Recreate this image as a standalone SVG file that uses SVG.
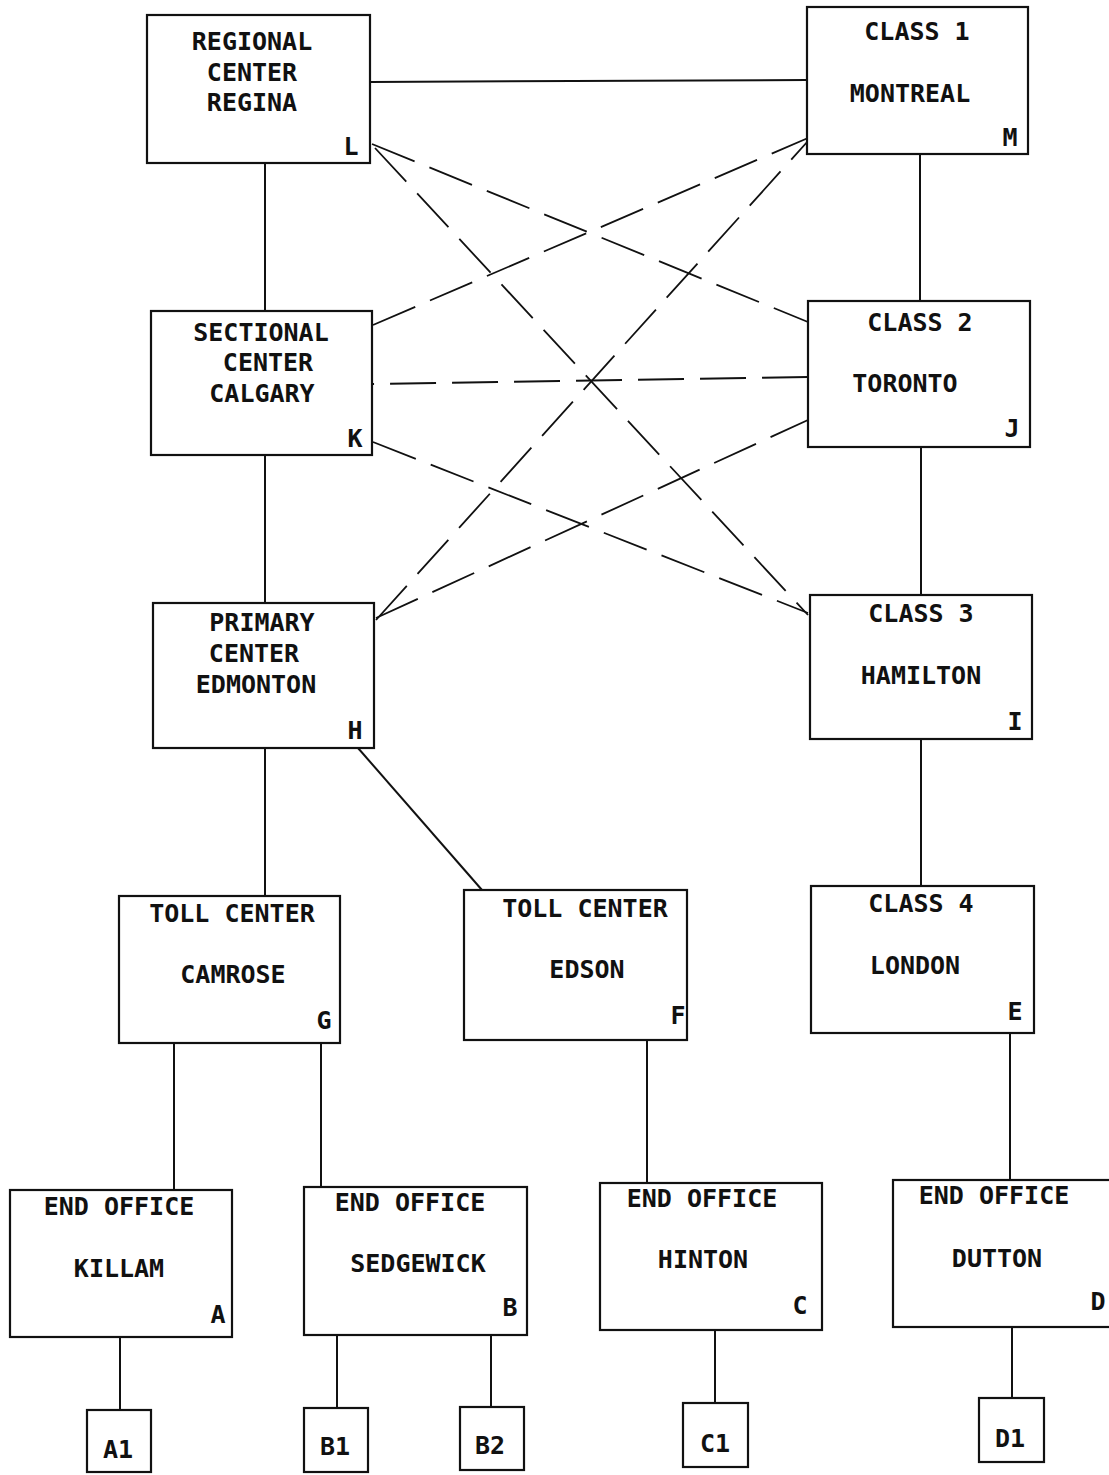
<svg xmlns="http://www.w3.org/2000/svg" width="1109" height="1475" viewBox="0 0 1109 1475">
<style>
.box{fill:#fff;stroke:#111;stroke-width:2.2}
.t{font-family:"DejaVu Sans Mono","Liberation Mono",monospace;font-size:25px;font-weight:bold;fill:#111;text-anchor:middle}
.lb{font-family:"DejaVu Sans Mono","Liberation Mono",monospace;font-size:25px;font-weight:bold;fill:#111;text-anchor:middle}
.s{stroke:#111;stroke-width:2;fill:none}
.d{stroke:#111;stroke-width:1.8;fill:none;stroke-dasharray:46 16}
</style>
<rect width="1109" height="1475" fill="#fff"/>
<g id="connectors">
<line class="s" x1="370" y1="82" x2="807" y2="80"/>
<line class="s" x1="265" y1="163" x2="265" y2="311"/>
<line class="s" x1="920" y1="154" x2="920" y2="301"/>
<line class="s" x1="265" y1="455" x2="265" y2="603"/>
<line class="s" x1="921" y1="447" x2="921" y2="595"/>
<line class="s" x1="265" y1="748" x2="265" y2="896"/>
<line class="s" x1="358" y1="748" x2="482" y2="890"/>
<line class="s" x1="921" y1="739" x2="921" y2="886"/>
<line class="s" x1="174" y1="1043" x2="174" y2="1190"/>
<line class="s" x1="321" y1="1043" x2="321" y2="1187"/>
<line class="s" x1="647" y1="1040" x2="647" y2="1183"/>
<line class="s" x1="1010" y1="1033" x2="1010" y2="1180"/>
<line class="s" x1="120" y1="1337" x2="120" y2="1410"/>
<line class="s" x1="337" y1="1335" x2="337" y2="1408"/>
<line class="s" x1="491" y1="1335" x2="491" y2="1407"/>
<line class="s" x1="715" y1="1330" x2="715" y2="1403"/>
<line class="s" x1="1012" y1="1327" x2="1012" y2="1398"/>
<line class="d" x1="372" y1="144" x2="808" y2="322"/>
<line class="d" x1="375" y1="148" x2="808" y2="615"/>
<line class="d" x1="373" y1="325" x2="808" y2="138"/>
<line class="d" x1="808" y1="377" x2="373" y2="384"/>
<line class="d" x1="373" y1="442" x2="808" y2="613"/>
<line class="d" x1="376" y1="620" x2="808" y2="141"/>
<line class="d" x1="376" y1="618" x2="808" y2="420"/>
</g>
<g id="L"><rect class="box" x="147" y="15" width="223" height="148"/><text class="t" x="252" y="50">REGIONAL</text><text class="t" x="252" y="81">CENTER</text><text class="t" x="252" y="111">REGINA</text><text class="lb" x="351" y="155">L</text></g>
<g id="M"><rect class="box" x="807" y="7" width="221" height="147"/><text class="t" x="917" y="40">CLASS 1</text><text class="t" x="910" y="102">MONTREAL</text><text class="lb" x="1010" y="146">M</text></g>
<g id="K"><rect class="box" x="151" y="311" width="221" height="144"/><text class="t" x="261" y="341">SECTIONAL</text><text class="t" x="268" y="371">CENTER</text><text class="t" x="262" y="402">CALGARY</text><text class="lb" x="355" y="447">K</text></g>
<g id="J"><rect class="box" x="808" y="301" width="222" height="146"/><text class="t" x="920" y="331">CLASS 2</text><text class="t" x="905" y="392">TORONTO</text><text class="lb" x="1012" y="437">J</text></g>
<g id="H"><rect class="box" x="153" y="603" width="221" height="145"/><text class="t" x="262" y="631">PRIMARY</text><text class="t" x="254" y="662">CENTER</text><text class="t" x="256" y="693">EDMONTON</text><text class="lb" x="355" y="739">H</text></g>
<g id="I"><rect class="box" x="810" y="595" width="222" height="144"/><text class="t" x="921" y="622">CLASS 3</text><text class="t" x="921" y="684">HAMILTON</text><text class="lb" x="1015" y="730">I</text></g>
<g id="G"><rect class="box" x="119" y="896" width="221" height="147"/><text class="t" x="232" y="922">TOLL CENTER</text><text class="t" x="233" y="983">CAMROSE</text><text class="lb" x="324" y="1029">G</text></g>
<g id="F"><rect class="box" x="464" y="890" width="223" height="150"/><text class="t" x="585" y="917">TOLL CENTER</text><text class="t" x="587" y="978">EDSON</text><text class="lb" x="678" y="1024">F</text></g>
<g id="E"><rect class="box" x="811" y="886" width="223" height="147"/><text class="t" x="921" y="912">CLASS 4</text><text class="t" x="915" y="974">LONDON</text><text class="lb" x="1015" y="1020">E</text></g>
<g id="A"><rect class="box" x="10" y="1190" width="222" height="147"/><text class="t" x="119" y="1215">END OFFICE</text><text class="t" x="119" y="1277">KILLAM</text><text class="lb" x="218" y="1323">A</text></g>
<g id="B"><rect class="box" x="304" y="1187" width="223" height="148"/><text class="t" x="410" y="1211">END OFFICE</text><text class="t" x="418" y="1272">SEDGEWICK</text><text class="lb" x="510" y="1316">B</text></g>
<g id="C"><rect class="box" x="600" y="1183" width="222" height="147"/><text class="t" x="702" y="1207">END OFFICE</text><text class="t" x="703" y="1268">HINTON</text><text class="lb" x="800" y="1314">C</text></g>
<g id="D"><rect class="box" x="893" y="1180" width="225" height="147"/><text class="t" x="994" y="1204">END OFFICE</text><text class="t" x="997" y="1267">DUTTON</text><text class="lb" x="1098" y="1310">D</text></g>
<g id="A1"><rect class="box" x="87" y="1410" width="64" height="62"/><text class="t" x="118" y="1458">A1</text></g>
<g id="B1"><rect class="box" x="304" y="1408" width="64" height="64"/><text class="t" x="335" y="1455">B1</text></g>
<g id="B2"><rect class="box" x="460" y="1407" width="64" height="63"/><text class="t" x="490" y="1454">B2</text></g>
<g id="C1"><rect class="box" x="683" y="1403" width="65" height="64"/><text class="t" x="715" y="1452">C1</text></g>
<g id="D1"><rect class="box" x="979" y="1398" width="65" height="64"/><text class="t" x="1010" y="1447">D1</text></g>
</svg>
